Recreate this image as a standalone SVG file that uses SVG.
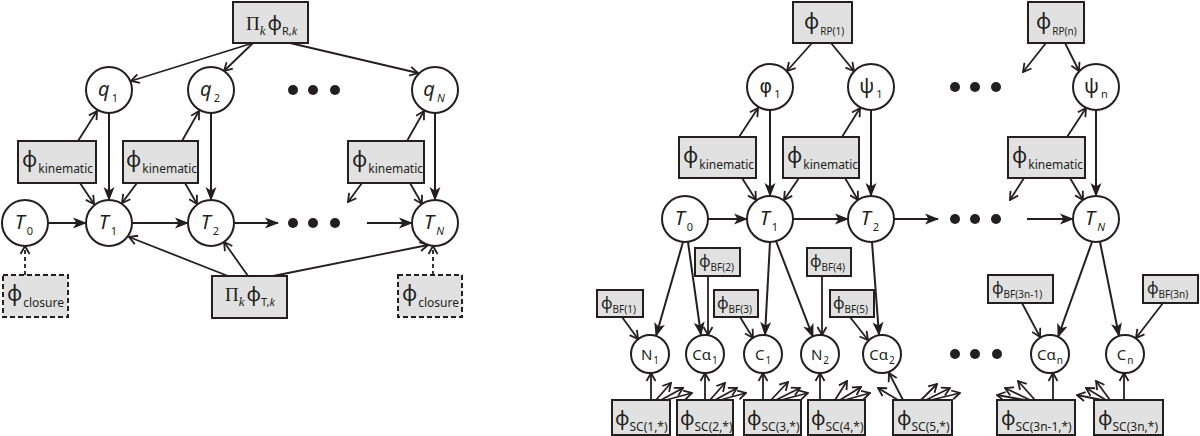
<svg xmlns="http://www.w3.org/2000/svg" width="1200" height="436" viewBox="0 0 1200 436">
<style>
.bg{fill:#fff}
.box{fill:#e1e1e1;stroke:#231f20;stroke-width:2}
.dbox{fill:#e1e1e1;stroke:#231f20;stroke-width:2;stroke-dasharray:5,3}
.nd{fill:#fff;stroke:#231f20;stroke-width:2}
.e{stroke:#231f20;stroke-width:2;fill:none}
.fe{stroke:#231f20;stroke-width:2;fill:none;marker-end:url(#fa)}
.oe{stroke:#231f20;stroke-width:1.8;fill:none;marker-end:url(#oa)}
.de{stroke:#231f20;stroke-width:1.8;fill:none;stroke-dasharray:4,3;marker-end:url(#oa)}
.dot{fill:#231f20}
text{font-family:"Noto Sans","DejaVu Sans",sans-serif;fill:#231f20}
.sr{font-family:"Liberation Serif",serif}
.dj{font-family:"DejaVu Sans",sans-serif}
.it{font-style:italic}
</style>
<defs>
<marker id="fa" viewBox="0 0 14 12" refX="13" refY="6" markerWidth="14" markerHeight="12" orient="auto" markerUnits="userSpaceOnUse"><path d="M0,0.5 L14,6 L0,11.5 L3.5,6 Z" fill="#231f20"/></marker>
<marker id="oa" viewBox="0 0 12 12" refX="11" refY="6" markerWidth="12" markerHeight="12" orient="auto" markerUnits="userSpaceOnUse"><path d="M3,1.5 L11,6 L3,10.5" fill="none" stroke="#231f20" stroke-width="1.8"/></marker>
</defs>
<rect class="bg" x="0" y="0" width="1200" height="436"/>

<g id="connectors">
<!-- left panel -->
<line class="oe" x1="253" y1="43" x2="131" y2="81"/>
<line class="oe" x1="253" y1="43" x2="224" y2="71"/>
<line class="oe" x1="290" y1="43" x2="418" y2="73"/>
<line class="fe" x1="109" y1="113" x2="109" y2="200"/>
<line class="fe" x1="211" y1="113" x2="211" y2="200"/>
<line class="fe" x1="435" y1="113" x2="435" y2="200"/>
<line class="oe" x1="78" y1="141" x2="97" y2="111"/>
<line class="oe" x1="80" y1="183" x2="94" y2="204"/>
<line class="oe" x1="182" y1="141" x2="199" y2="111"/>
<line class="oe" x1="137" y1="183" x2="122" y2="203"/>
<line class="oe" x1="185" y1="183" x2="197" y2="204"/>
<line class="oe" x1="407" y1="141" x2="424" y2="111"/>
<line class="oe" x1="362" y1="183" x2="348" y2="202"/>
<line class="oe" x1="410" y1="183" x2="422" y2="204"/>
<line class="fe" x1="48" y1="223" x2="86" y2="223"/>
<line class="fe" x1="132" y1="223" x2="188" y2="223"/>
<line class="fe" x1="234" y1="223" x2="278" y2="223"/>
<line class="fe" x1="367" y1="223" x2="412" y2="223"/>
<line class="oe" x1="228" y1="276" x2="129" y2="237"/>
<line class="oe" x1="248" y1="276" x2="224" y2="242"/>
<line class="oe" x1="273" y1="276" x2="428" y2="245"/>
<line class="de" x1="25" y1="275" x2="25" y2="246"/>
<line class="de" x1="433" y1="275" x2="433" y2="246"/>
<!-- right panel top -->
<line class="oe" x1="812" y1="43" x2="787" y2="71"/>
<line class="oe" x1="831" y1="43" x2="854" y2="71"/>
<line class="oe" x1="1046" y1="43" x2="1023" y2="72"/>
<line class="oe" x1="1065" y1="43" x2="1079" y2="71"/>
<line class="fe" x1="770" y1="110" x2="770" y2="196"/>
<line class="fe" x1="871" y1="110" x2="871" y2="196"/>
<line class="fe" x1="1096" y1="110" x2="1096" y2="196"/>
<line class="oe" x1="739" y1="137" x2="758" y2="108"/>
<line class="oe" x1="742" y1="178" x2="756" y2="200"/>
<line class="oe" x1="842" y1="137" x2="860" y2="108"/>
<line class="oe" x1="799" y1="178" x2="784" y2="200"/>
<line class="oe" x1="845" y1="178" x2="858" y2="200"/>
<line class="oe" x1="1067" y1="137" x2="1086" y2="108"/>
<line class="oe" x1="1024" y1="178" x2="1010" y2="200"/>
<line class="oe" x1="1070" y1="178" x2="1083" y2="200"/>
<line class="fe" x1="708" y1="219" x2="747" y2="219"/>
<line class="fe" x1="793" y1="219" x2="848" y2="219"/>
<line class="fe" x1="894" y1="219" x2="938" y2="219"/>
<line class="fe" x1="1027" y1="219" x2="1073" y2="219"/>
<!-- T to backbone atoms -->
<line class="fe" x1="683" y1="242" x2="656" y2="336"/>
<line class="fe" x1="688" y1="242" x2="701" y2="335"/>
<line class="fe" x1="770" y1="242" x2="765" y2="335"/>
<line class="fe" x1="776" y1="241" x2="813" y2="337"/>
<line class="fe" x1="872" y1="242" x2="879" y2="335"/>
<line class="fe" x1="1092" y1="242" x2="1058" y2="337"/>
<line class="fe" x1="1100" y1="242" x2="1119" y2="336"/>
<!-- BF factors -->
<line class="oe" x1="622" y1="317" x2="638" y2="339"/>
<line class="oe" x1="708" y1="276" x2="708" y2="335"/>
<line class="oe" x1="740" y1="317" x2="753" y2="338"/>
<line class="oe" x1="822" y1="276" x2="822" y2="335"/>
<line class="oe" x1="850" y1="317" x2="868" y2="340"/>
<line class="oe" x1="1022" y1="303" x2="1040" y2="337"/>
<line class="oe" x1="1163" y1="303" x2="1136" y2="338"/>
<!-- SC factors -->
<line class="oe" x1="651" y1="400" x2="651" y2="373"/>
<line class="oe" x1="656" y1="400" x2="671" y2="383"/>
<line class="oe" x1="661" y1="400" x2="683" y2="388"/>
<line class="oe" x1="666" y1="400" x2="692" y2="393"/>
<line class="oe" x1="705" y1="400" x2="705" y2="373"/>
<line class="oe" x1="710" y1="400" x2="725" y2="383"/>
<line class="oe" x1="715" y1="400" x2="737" y2="388"/>
<line class="oe" x1="720" y1="400" x2="746" y2="393"/>
<line class="oe" x1="763" y1="400" x2="763" y2="373"/>
<line class="oe" x1="771" y1="400" x2="788" y2="382"/>
<line class="oe" x1="776" y1="400" x2="800" y2="388"/>
<line class="oe" x1="781" y1="400" x2="808" y2="393"/>
<line class="oe" x1="820" y1="400" x2="820" y2="373"/>
<line class="oe" x1="835" y1="400" x2="847" y2="381"/>
<line class="oe" x1="840" y1="400" x2="861" y2="387"/>
<line class="oe" x1="845" y1="400" x2="870" y2="393"/>
<line class="oe" x1="903" y1="400" x2="889" y2="373"/>
<line class="oe" x1="898" y1="400" x2="878" y2="388"/>
<line class="oe" x1="921" y1="400" x2="937" y2="384"/>
<line class="oe" x1="926" y1="400" x2="950" y2="388"/>
<line class="oe" x1="931" y1="400" x2="960" y2="393"/>
<line class="oe" x1="1053" y1="400" x2="1053" y2="373"/>
<line class="oe" x1="1035" y1="400" x2="1018" y2="381"/>
<line class="oe" x1="1030" y1="400" x2="1005" y2="388"/>
<line class="oe" x1="1025" y1="400" x2="997" y2="395"/>
<line class="oe" x1="1124" y1="400" x2="1124" y2="373"/>
<line class="oe" x1="1110" y1="400" x2="1096" y2="381"/>
<line class="oe" x1="1106" y1="400" x2="1086" y2="388"/>
<line class="oe" x1="1102" y1="400" x2="1077" y2="395"/>
</g>

<g id="ellipses">
<circle class="dot" cx="293" cy="90" r="5"/><circle class="dot" cx="313" cy="90" r="5"/><circle class="dot" cx="335" cy="90" r="5"/>
<circle class="dot" cx="293" cy="223" r="5"/><circle class="dot" cx="313" cy="223" r="5"/><circle class="dot" cx="335" cy="223" r="5"/>
<circle class="dot" cx="955" cy="87" r="5"/><circle class="dot" cx="975" cy="87" r="5"/><circle class="dot" cx="996" cy="87" r="5"/>
<circle class="dot" cx="955" cy="219" r="5"/><circle class="dot" cx="975" cy="219" r="5"/><circle class="dot" cx="996" cy="219" r="5"/>
<circle class="dot" cx="955" cy="354" r="5"/><circle class="dot" cx="975" cy="354" r="5"/><circle class="dot" cx="997" cy="354" r="5"/>
</g>

<!-- left panel nodes -->
<g id="L_prodR"><rect class="box" x="233" y="2" width="75" height="41"/><text x="246" y="30" font-size="19"><tspan class="sr">Π</tspan><tspan class="sr it" font-size="13" dy="5">k</tspan><tspan font-size="20" dy="-5" dx="2">ϕ</tspan><tspan font-size="11" dy="5">R,<tspan class="it">k</tspan></tspan></text></g>
<g id="L_q1"><circle class="nd" cx="109" cy="90" r="23"/><text x="108" y="96" font-size="20" text-anchor="middle"><tspan class="it">q</tspan><tspan font-size="11" dy="6" dx="2">1</tspan></text></g>
<g id="L_q2"><circle class="nd" cx="211" cy="90" r="23"/><text x="210" y="96" font-size="20" text-anchor="middle"><tspan class="it">q</tspan><tspan font-size="11" dy="6" dx="2">2</tspan></text></g>
<g id="L_qN"><circle class="nd" cx="435" cy="90" r="23"/><text x="434" y="96" font-size="20" text-anchor="middle"><tspan class="it">q</tspan><tspan class="it" font-size="11" dy="6" dx="2">N</tspan></text></g>
<g id="L_kin1"><rect class="box" x="18" y="141" width="78" height="42"/><text x="22" y="167" font-size="21">ϕ<tspan font-size="12" dy="6" dx="1">kinematic</tspan></text></g>
<g id="L_kin2"><rect class="box" x="123" y="141" width="75" height="42"/><text x="126" y="167" font-size="21">ϕ<tspan font-size="12" dy="6" dx="1">kinematic</tspan></text></g>
<g id="L_kinN"><rect class="box" x="348" y="141" width="76" height="42"/><text x="352" y="167" font-size="21">ϕ<tspan font-size="12" dy="6" dx="1">kinematic</tspan></text></g>
<g id="L_T0"><circle class="nd" cx="25" cy="223" r="23"/><text x="24" y="229" font-size="20" text-anchor="middle"><tspan class="it">T</tspan><tspan font-size="11" dy="6" dx="2">0</tspan></text></g>
<g id="L_T1"><circle class="nd" cx="109" cy="223" r="23"/><text x="108" y="229" font-size="20" text-anchor="middle"><tspan class="it">T</tspan><tspan font-size="11" dy="6" dx="2">1</tspan></text></g>
<g id="L_T2"><circle class="nd" cx="211" cy="223" r="23"/><text x="210" y="229" font-size="20" text-anchor="middle"><tspan class="it">T</tspan><tspan font-size="11" dy="6" dx="2">2</tspan></text></g>
<g id="L_TN"><circle class="nd" cx="435" cy="223" r="23"/><text x="434" y="229" font-size="20" text-anchor="middle"><tspan class="it">T</tspan><tspan class="it" font-size="11" dy="6" dx="2">N</tspan></text></g>
<g id="L_clos0"><rect class="dbox" x="3" y="275" width="65" height="42"/><text x="7" y="301" font-size="21">ϕ<tspan font-size="12" dy="6" dx="1">closure</tspan></text></g>
<g id="L_closN"><rect class="dbox" x="398" y="275" width="64" height="42"/><text x="402" y="301" font-size="21">ϕ<tspan font-size="12" dy="6" dx="1">closure</tspan></text></g>
<g id="L_prodT"><rect class="box" x="212" y="276" width="75" height="42"/><text x="225" y="301" font-size="19"><tspan class="sr">Π</tspan><tspan class="sr it" font-size="13" dy="5">k</tspan><tspan font-size="20" dy="-5" dx="2">ϕ</tspan><tspan font-size="11" dy="5">T,<tspan class="it">k</tspan></tspan></text></g>

<!-- right panel nodes -->
<g id="R_rp1"><rect class="box" x="793" y="2" width="59" height="41"/><text x="804" y="29" font-size="21">ϕ<tspan font-size="10" dy="6" dx="1">RP(1)</tspan></text></g>
<g id="R_rpn"><rect class="box" x="1028" y="2" width="56" height="41"/><text x="1036" y="29" font-size="21">ϕ<tspan font-size="10" dy="6" dx="1">RP(n)</tspan></text></g>
<g id="R_phi1"><circle class="nd" cx="770" cy="87" r="23"/><text x="770" y="93" font-size="19" text-anchor="middle"><tspan class="dj">φ</tspan><tspan font-size="11" dy="5" dx="2">1</tspan></text></g>
<g id="R_psi1"><circle class="nd" cx="871" cy="87" r="23"/><text x="871" y="93" font-size="20" text-anchor="middle">ψ<tspan font-size="11" dy="5" dx="2">1</tspan></text></g>
<g id="R_psin"><circle class="nd" cx="1096" cy="87" r="23"/><text x="1096" y="93" font-size="20" text-anchor="middle">ψ<tspan font-size="11" dy="5" dx="2">n</tspan></text></g>
<g id="R_kin1"><rect class="box" x="679" y="137" width="77" height="41"/><text x="683" y="163" font-size="21">ϕ<tspan font-size="12" dy="6" dx="1">kinematic</tspan></text></g>
<g id="R_kin2"><rect class="box" x="783" y="137" width="76" height="41"/><text x="787" y="163" font-size="21">ϕ<tspan font-size="12" dy="6" dx="1">kinematic</tspan></text></g>
<g id="R_kinN"><rect class="box" x="1008" y="137" width="77" height="41"/><text x="1012" y="163" font-size="21">ϕ<tspan font-size="12" dy="6" dx="1">kinematic</tspan></text></g>
<g id="R_T0"><circle class="nd" cx="685" cy="219" r="23"/><text x="684" y="225" font-size="20" text-anchor="middle"><tspan class="it">T</tspan><tspan font-size="11" dy="6" dx="2">0</tspan></text></g>
<g id="R_T1"><circle class="nd" cx="770" cy="219" r="23"/><text x="769" y="225" font-size="20" text-anchor="middle"><tspan class="it">T</tspan><tspan font-size="11" dy="6" dx="2">1</tspan></text></g>
<g id="R_T2"><circle class="nd" cx="871" cy="219" r="23"/><text x="870" y="225" font-size="20" text-anchor="middle"><tspan class="it">T</tspan><tspan font-size="11" dy="6" dx="2">2</tspan></text></g>
<g id="R_TN"><circle class="nd" cx="1096" cy="219" r="23"/><text x="1095" y="225" font-size="20" text-anchor="middle"><tspan class="it">T</tspan><tspan class="it" font-size="11" dy="6" dx="2">N</tspan></text></g>

<g id="R_bf1"><rect class="box" x="597" y="290" width="46" height="27"/><text x="601" y="309" font-size="16">ϕ<tspan font-size="10" dy="4">BF(1)</tspan></text></g>
<g id="R_bf2"><rect class="box" x="695" y="248" width="45" height="28"/><text x="699" y="267" font-size="16">ϕ<tspan font-size="10" dy="4">BF(2)</tspan></text></g>
<g id="R_bf3"><rect class="box" x="714" y="290" width="44" height="27"/><text x="717" y="309" font-size="16">ϕ<tspan font-size="10" dy="4">BF(3)</tspan></text></g>
<g id="R_bf4"><rect class="box" x="807" y="248" width="44" height="28"/><text x="810" y="267" font-size="16">ϕ<tspan font-size="10" dy="4">BF(4)</tspan></text></g>
<g id="R_bf5"><rect class="box" x="830" y="290" width="44" height="27"/><text x="833" y="309" font-size="16">ϕ<tspan font-size="10" dy="4">BF(5)</tspan></text></g>
<g id="R_bf3n1"><rect class="box" x="988" y="275" width="65" height="28"/><text x="992" y="294" font-size="16">ϕ<tspan font-size="10" dy="4">BF(3n-1)</tspan></text></g>
<g id="R_bf3n"><rect class="box" x="1143" y="275" width="55" height="28"/><text x="1147" y="294" font-size="16">ϕ<tspan font-size="10" dy="4">BF(3n)</tspan></text></g>

<g id="R_N1"><circle class="nd" cx="650" cy="354" r="19"/><text x="650" y="360" font-size="15" text-anchor="middle">N<tspan font-size="10" dy="4" dx="1">1</tspan></text></g>
<g id="R_Ca1"><circle class="nd" cx="705" cy="354" r="19"/><text x="705" y="360" font-size="15" text-anchor="middle">Cα<tspan font-size="10" dy="4" dx="1">1</tspan></text></g>
<g id="R_C1"><circle class="nd" cx="763" cy="354" r="19"/><text x="763" y="360" font-size="15" text-anchor="middle">C<tspan font-size="10" dy="4" dx="1">1</tspan></text></g>
<g id="R_N2"><circle class="nd" cx="820" cy="354" r="19"/><text x="820" y="360" font-size="15" text-anchor="middle">N<tspan font-size="10" dy="4" dx="1">2</tspan></text></g>
<g id="R_Ca2"><circle class="nd" cx="882" cy="354" r="19"/><text x="882" y="360" font-size="15" text-anchor="middle">Cα<tspan font-size="10" dy="4" dx="1">2</tspan></text></g>
<g id="R_Can"><circle class="nd" cx="1050" cy="354" r="19"/><text x="1050" y="360" font-size="15" text-anchor="middle">Cα<tspan font-size="10" dy="4" dx="1">n</tspan></text></g>
<g id="R_Cn"><circle class="nd" cx="1125" cy="354" r="19"/><text x="1125" y="360" font-size="15" text-anchor="middle">C<tspan font-size="10" dy="4" dx="1">n</tspan></text></g>

<g id="R_sc1"><rect class="box" x="612" y="400" width="58" height="35"/><text x="615" y="425" font-size="20">ϕ<tspan font-size="12" dy="6">SC(1,*)</tspan></text></g>
<g id="R_sc2"><rect class="box" x="677" y="400" width="56" height="35"/><text x="680" y="425" font-size="20">ϕ<tspan font-size="12" dy="6">SC(2,*)</tspan></text></g>
<g id="R_sc3"><rect class="box" x="744" y="400" width="57" height="35"/><text x="747" y="425" font-size="20">ϕ<tspan font-size="12" dy="6">SC(3,*)</tspan></text></g>
<g id="R_sc4"><rect class="box" x="808" y="400" width="57" height="35"/><text x="811" y="425" font-size="20">ϕ<tspan font-size="12" dy="6">SC(4,*)</tspan></text></g>
<g id="R_sc5"><rect class="box" x="893" y="400" width="59" height="35"/><text x="897" y="425" font-size="20">ϕ<tspan font-size="12" dy="6">SC(5,*)</tspan></text></g>
<g id="R_sc3n1"><rect class="box" x="997" y="400" width="78" height="35"/><text x="1001" y="425" font-size="20">ϕ<tspan font-size="12" dy="6">SC(3n-1,*)</tspan></text></g>
<g id="R_sc3n"><rect class="box" x="1094" y="400" width="69" height="35"/><text x="1098" y="425" font-size="20">ϕ<tspan font-size="12" dy="6">SC(3n,*)</tspan></text></g>
</svg>
